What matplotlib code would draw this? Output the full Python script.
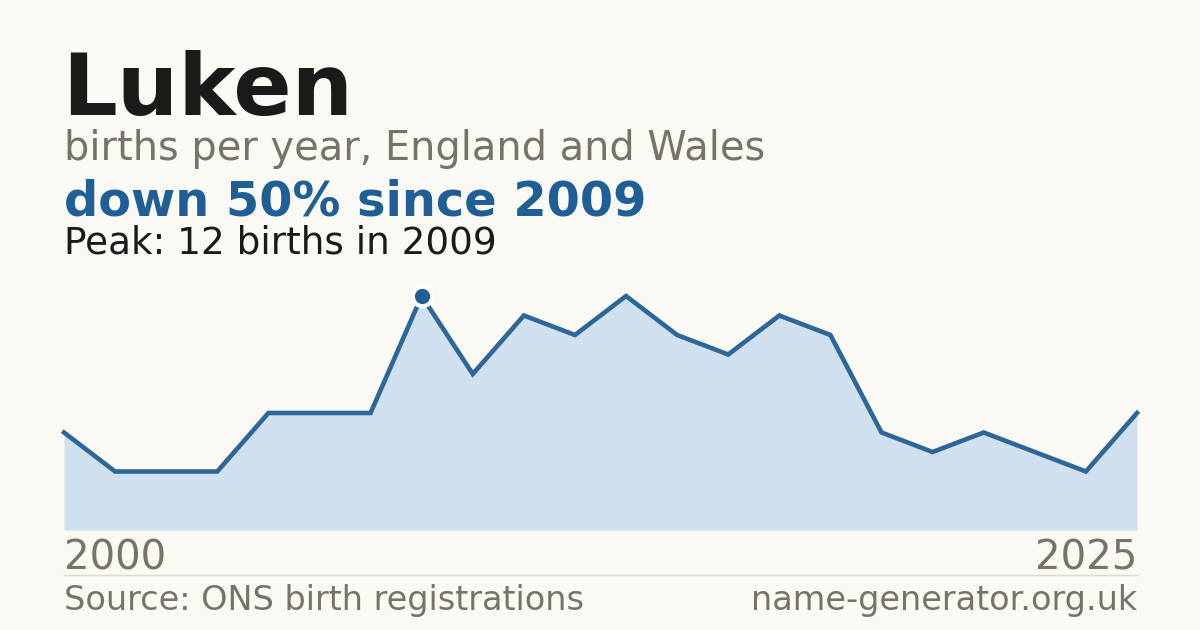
import matplotlib
matplotlib.use("Agg")
import matplotlib.pyplot as plt

years = list(range(2002, 2024))
births = [5, 3, 3, 3, 6, 6, 6, 12, 8, 11, 10, 12, 10, 9, 11, 10, 5, 4, 5, 4, 3, 6]
peak_year = 2009
peak_value = 12
name = "Luken"
subtitle = "births per year, England and Wales"
headline = "down 50% since 2009"
peak_text = "Peak: 12 births in 2009"
axis_labels = ["2000", "2025"]
source = "Source: ONS birth registrations"
site = "name-generator.org.uk"

BG = "#faf9f4"
BLUE = "#1f5f96"
LINE = "#2d6799"
FILL = "#d0e0ef"
GRAY = "#77736c"
DARK = "#1a1a1a"

W, H = 1200, 630
fig = plt.figure(figsize=(12, 6.3), dpi=100, facecolor=BG)
plt.rcParams['font.family'] = ['DejaVu Sans']

def fy(px):
    return 1 - px / H

ax = fig.add_axes([64 / W, fy(530), (1137 - 64) / W, (530 - 296) / H])
ax.set_facecolor(BG)
ax.patch.set_alpha(0)
ax.fill_between(years, births, 0, color=FILL, lw=0, zorder=1)
ax.plot(years, births, color=LINE, lw=3.3, solid_joinstyle='miter', clip_on=False, zorder=2)
ax.plot([peak_year], [peak_value], 'o', ms=14, mfc=BLUE, mec='white', mew=3, clip_on=False, zorder=3)
ax.set_xlim(years[0], years[-1])
ax.set_ylim(0, 12)
ax.axis('off')

fig.text(62 / W, fy(115), name, fontsize=62, fontweight='bold', color=DARK, va='baseline', ha='left')
fig.text(64 / W, fy(160), subtitle, fontsize=28.7, color=GRAY, va='baseline', ha='left')
fig.text(64 / W, fy(215), headline, fontsize=34.5, fontweight='bold', color=BLUE, va='baseline', ha='left')
fig.text(64 / W, fy(253), peak_text, fontsize=26.9, color=DARK, va='baseline', ha='left')

fig.text(64 / W, fy(570), axis_labels[0], fontsize=29, color=GRAY, va='baseline', ha='left')
fig.text(1137 / W, fy(570), axis_labels[1], fontsize=29, color=GRAY, va='baseline', ha='right')

fig.add_artist(plt.Line2D([64 / W, 1137 / W], [fy(574.5), fy(574.5)], color="#dcdad3", lw=1))

fig.text(64 / W, fy(610), source, fontsize=24.1, color=GRAY, va='baseline', ha='left')
fig.text(1137 / W, fy(610), site, fontsize=24.1, color=GRAY, va='baseline', ha='right')

fig.savefig("out.png", dpi=100, facecolor=BG)
